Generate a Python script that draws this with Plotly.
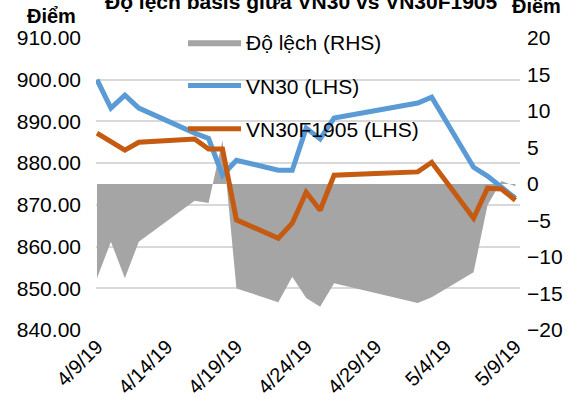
import plotly.graph_objects as go
from datetime import datetime, timedelta

dates = ["2019-04-09", "2019-04-10", "2019-04-11", "2019-04-12", "2019-04-16",
         "2019-04-17", "2019-04-18", "2019-04-19", "2019-04-22", "2019-04-23",
         "2019-04-24", "2019-04-25", "2019-04-26", "2019-04-29", "2019-05-02",
         "2019-05-03", "2019-05-06", "2019-05-07", "2019-05-08", "2019-05-09"]
vn30 = [900.0, 893.2, 896.3, 893.2, 887.2, 885.9, 877.1, 880.7, 878.3, 878.3,
        888.4, 885.8, 890.8, 892.5, 894.4, 895.8, 879.0, 876.9, 874.2, 871.6]
vn30f = [887.2, 885.3, 883.1, 885.0, 885.8, 883.4, 883.4, 866.4, 862.0, 865.6,
         873.0, 868.7, 877.1, 877.5, 877.9, 880.2, 866.8, 874.0, 873.8, 871.1]
dolech = [-12.9, -7.9, -12.9, -7.9, -2.3, -2.6, 6.0, -14.3, -16.2, -12.7,
          -15.6, -16.8, -13.6, -15.0, -16.3, -15.5, -12.1, -2.9, 0.4, -0.3]

title_text = "Độ lệch basis giữa VN30 vs VN30F1905"
names = ["Độ lệch (RHS)", "VN30 (LHS)", "VN30F1905 (LHS)"]

FONT = "Liberation Sans, Arial, sans-serif"
W, H = 578, 405
L, R, T, B = 96, 58, 38, 75
pw, ph = W - L - R, H - T - B

x0 = datetime(2019, 4, 9) - timedelta(days=0.07)
x1 = datetime(2019, 5, 9) + timedelta(days=0.33)

fig = go.Figure()
fig.add_trace(go.Scatter(x=dates, y=dolech, name=names[0], mode="lines",
                         fill="tozeroy", fillcolor="#a5a5a5",
                         line=dict(width=0, color="#a5a5a5"),
                         yaxis="y", legendgroup="a"))
fig.add_trace(go.Scatter(x=dates, y=vn30, name=names[1], mode="lines",
                         line=dict(width=5, color="#5b9bd5"),
                         yaxis="y2", legendgroup="b"))
fig.add_trace(go.Scatter(x=dates, y=vn30f, name=names[2], mode="lines",
                         line=dict(width=5, color="#c55a11"),
                         yaxis="y2", legendgroup="c"))

fig.update_layout(
    width=W, height=H,
    margin=dict(l=L, r=R, t=T, b=B, pad=0, autoexpand=False),
    plot_bgcolor="white", paper_bgcolor="white",
    font=dict(family=FONT, size=21, color="#000000"),
    showlegend=True,
    legend=dict(x=(183 - L) / pw, y=(330 - 22) / ph, xanchor="left", yanchor="top",
                bgcolor="rgba(0,0,0,0)", font=dict(size=21), itemwidth=53,
                tracegroupgap=13, traceorder="grouped"),
    xaxis=dict(type="date", range=[x0, x1], tick0="2019-04-09",
               dtick=5 * 24 * 3600 * 1000, tickformat="%-m/%-d/%y",
               tickangle=-45, showgrid=False, showline=False, ticks="",
               zeroline=False, tickfont=dict(size=20), automargin=False),
    yaxis=dict(side="right", range=[-20, 20], dtick=5, showgrid=False,
               zeroline=False, ticks="", ticklabelstandoff=6, automargin=False),
    yaxis2=dict(side="left", overlaying="y", range=[840, 910], dtick=10,
                tickformat=".2f", showgrid=True, gridcolor="#d9d9d9",
                gridwidth=1.5, zeroline=False, ticks="", ticklabelstandoff=14,
                automargin=False),
    annotations=[
        dict(text="<b>" + title_text + "</b>", xref="paper", yref="paper",
             x=(103 - L) / pw, y=(330 - 1) / ph, xanchor="left", yanchor="middle",
             showarrow=False, font=dict(size=21)),
        dict(text="<b>Điểm</b>", xref="paper", yref="paper",
             x=(51 - L) / pw, y=(330 - 16) / ph, xanchor="center", yanchor="middle",
             showarrow=False, font=dict(size=20)),
        dict(text="<b>Điểm</b>", xref="paper", yref="paper",
             x=(536 - L) / pw, y=(330 - 6) / ph, xanchor="center", yanchor="middle",
             showarrow=False, font=dict(size=20)),
    ],
)

fig.write_html("out.html", config={"displayModeBar": False},
               post_script="document.body.style.margin='0';")
